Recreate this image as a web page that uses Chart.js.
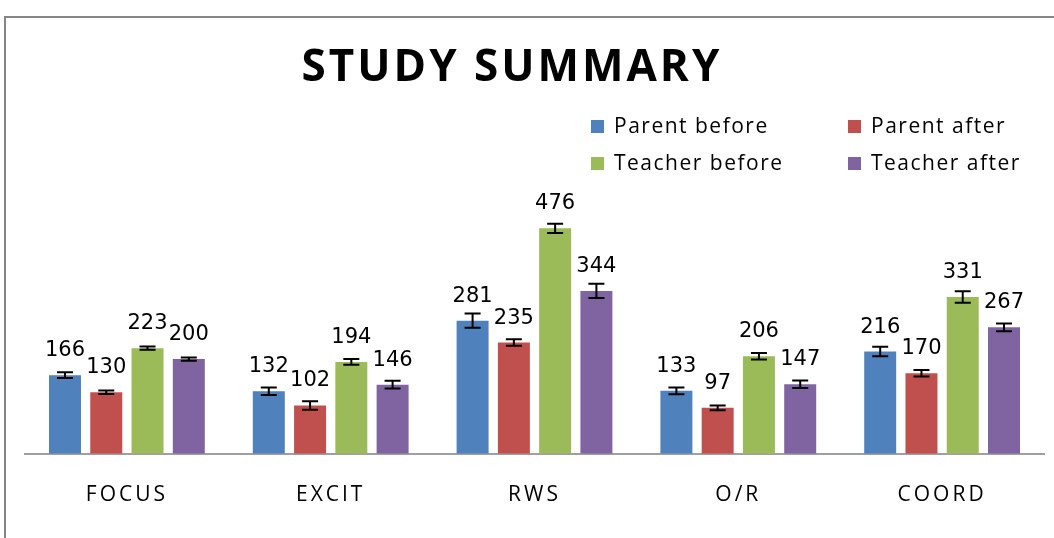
<!DOCTYPE html>
<html>
<head>
<meta charset="utf-8">
<script src="https://cdn.jsdelivr.net/npm/chart.js@4"></script>
<style>
  html, body { margin: 0; padding: 0; background: #fff; }
  #wrap { width: 1054px; height: 538px; position: relative; }
</style>
</head>
<body>
<div id="wrap"><canvas id="chartStudy"></canvas></div>
<script>
// ====== datos ======
const categories = ["FOCUS", "EXCIT", "RWS", "O/R", "COORD"];
const seriesNames = ["Parent before", "Parent after", "Teacher before", "Teacher after"];
const parentBefore = [166, 132, 281, 133, 216];
const parentAfter = [130, 102, 235, 97, 170];
const teacherBefore = [223, 194, 476, 206, 331];
const teacherAfter = [200, 146, 344, 147, 267];
// error bars (+/-)
const parentBeforeErr = [6, 8, 15, 7, 10];
const parentAfterErr = [3.5, 9, 7, 5, 7];
const teacherBeforeErr = [3.5, 6, 10, 7, 12];
const teacherAfterErr = [3.5, 8, 15, 8, 8];
const colors = ["#4F81BD", "#C0504D", "#9BBB59", "#8064A2"];

const seriesValues = [parentBefore, parentAfter, teacherBefore, teacherAfter];
const seriesErrors = [parentBeforeErr, parentAfterErr, teacherBeforeErr, teacherAfterErr];

// ====== marco, titulo y leyenda ======
const framePlugin = {
    id: "frame",
    beforeDraw(chart) {
        const ctx = chart.ctx;
        ctx.save();
        ctx.fillStyle = "#fff";
        ctx.fillRect(0, 0, chart.width, chart.height);
        ctx.strokeStyle = "#868686";
        ctx.lineWidth = 2;
        ctx.strokeRect(5, 17, 2000, 2000);
        ctx.restore();
        // spaced letters for the axis labels
        ctx.letterSpacing = "3px";
    },
    afterDraw(chart) {
        const ctx = chart.ctx;
        ctx.save();
        // title
        ctx.letterSpacing = "3px";
        ctx.font = "bold 44px 'Open Sans'";
        ctx.fillStyle = "#000";
        ctx.textAlign = "center";
        ctx.textBaseline = "alphabetic";
        ctx.fillText("STUDY SUMMARY", 512, 81);
        // legend
        ctx.letterSpacing = "1.5px";
        ctx.font = "21px 'Open Sans'";
        ctx.textAlign = "left";
        const colX = [591, 848];
        const rowY = [127, 164];
        chart.data.datasets.forEach((ds, i) => {
            const x = colX[i % 2];
            const y = rowY[Math.floor(i / 2)];
            ctx.fillStyle = ds.backgroundColor;
            ctx.fillRect(x, y - 7, 13, 13);
            ctx.fillStyle = "#000";
            ctx.textBaseline = "middle";
            ctx.fillText(ds.label, x + 23, y);
        });
        ctx.restore();
        ctx.letterSpacing = "0px";
    }
};

// ====== barras de error y etiquetas ======
const errorPlugin = {
    id: "errorBars",
    afterDatasetsDraw(chart) {
        const ctx = chart.ctx;
        const yScale = chart.scales.y;
        ctx.save();
        ctx.letterSpacing = "0px";
        chart.data.datasets.forEach((ds, i) => {
            const meta = chart.getDatasetMeta(i);
            meta.data.forEach((bar, j) => {
                const v = ds.data[j];
                const e = seriesErrors[i][j];
                const yTop = yScale.getPixelForValue(v + e);
                const yBot = yScale.getPixelForValue(v - e);
                ctx.strokeStyle = "#000";
                ctx.lineWidth = 2;
                ctx.beginPath();
                ctx.moveTo(bar.x, yTop);
                ctx.lineTo(bar.x, yBot);
                ctx.moveTo(bar.x - 8, yTop);
                ctx.lineTo(bar.x + 8, yTop);
                ctx.moveTo(bar.x - 8, yBot);
                ctx.lineTo(bar.x + 8, yBot);
                ctx.stroke();
                // value label
                ctx.fillStyle = "#000";
                ctx.font = "21px 'DejaVu Sans'";
                ctx.textAlign = "center";
                ctx.textBaseline = "alphabetic";
                ctx.fillText(String(v), bar.x, bar.y - 19);
            });
        });
        ctx.restore();
    }
};

const ctx = document.getElementById("chartStudy").getContext("2d");
new Chart(ctx, {
    type: "bar",
    data: {
        labels: categories,
        datasets: seriesValues.map((vals, i) => ({
            label: seriesNames[i],
            data: vals,
            backgroundColor: colors[i],
            categoryPercentage: 0.81,
            barPercentage: 0.775
        }))
    },
    options: {
        responsive: true,
        maintainAspectRatio: false,
        animation: false,
        layout: { padding: { top: 217, left: 25, right: 10, bottom: 9 } },
        plugins: {
            legend: { display: false },
            title: { display: false },
            tooltip: { enabled: false }
        },
        scales: {
            x: {
                grid: { display: false },
                border: { display: true, color: "#A0A0A0", width: 2 },
                ticks: {
                    color: "#000",
                    padding: 21,
                    font: { family: "'Open Sans'", size: 21 }
                }
            },
            y: {
                display: false,
                min: 0,
                max: 500
            }
        }
    },
    plugins: [framePlugin, errorPlugin]
});
</script>
</body>
</html>
